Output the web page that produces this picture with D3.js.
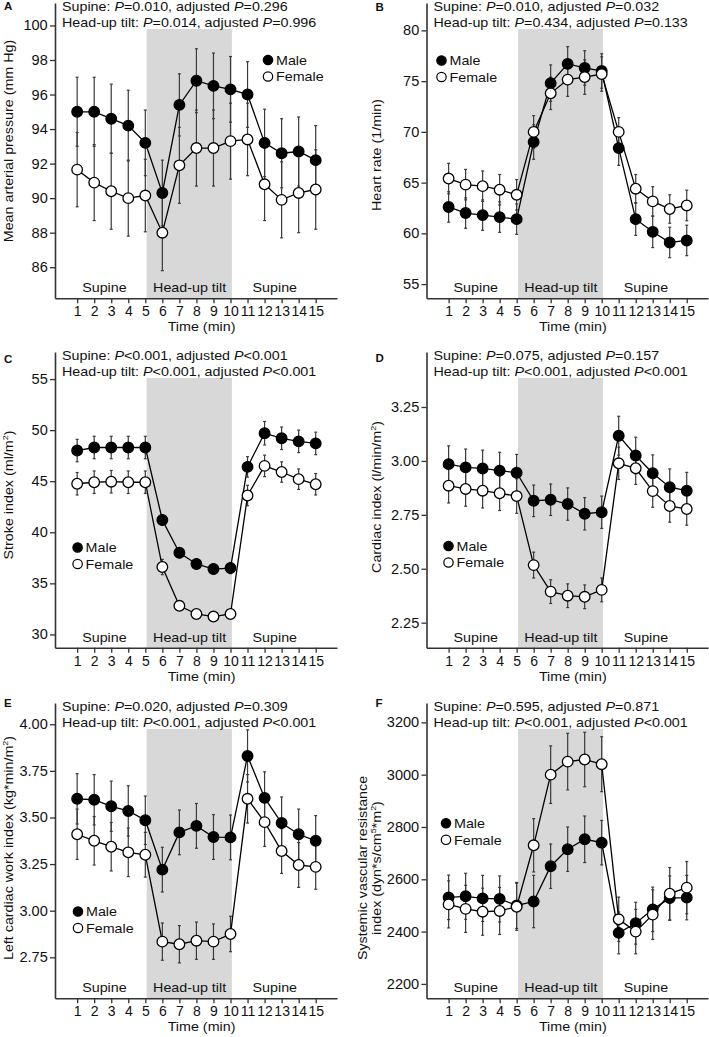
<!DOCTYPE html>
<html><head><meta charset="utf-8">
<script src="https://cdn.jsdelivr.net/npm/d3@7"></script>
<style>body{margin:0;background:#fff} svg{display:block} text{font-family:"Liberation Sans",Arial,Helvetica,sans-serif}</style>
</head><body><svg id="c" width="709" height="1037"></svg>
<script>
// ---------------- DATA ----------------
const times = [1,2,3,4,5,6,7,8,9,10,11,12,13,14,15];
const seriesNames = ["Male","Female"];
const phaseLabels = ["Supine","Head-up tilt","Supine"];
const phasePos = [2.6, 7.6, 12.6];
const tiltStart = 5.08, tiltEnd = 10.08;

const maleA = [95.0,95.0,94.6,94.2,93.2,90.3,95.4,96.8,96.5,96.3,96.0,93.2,92.6,92.7,92.2];
const maleAErr = [2.0,2.0,2.0,2.05,1.9,1.9,1.8,1.85,1.9,1.9,1.9,1.95,2.0,2.0,2.0];
const femaleA = [91.65,90.9,90.4,90.0,90.15,88.0,91.9,92.9,92.9,93.3,93.4,90.8,89.9,90.3,90.5];
const femaleAErr = [2.15,2.2,2.2,2.2,2.1,2.2,2.2,2.2,2.2,2.2,2.1,2.1,2.2,2.3,2.3];
const ticksA = [86,88,90,92,94,96,98,100];

const maleB = [62.6,62.0,61.8,61.6,61.4,69.0,74.8,76.7,76.3,76.0,68.4,61.4,60.15,59.1,59.3];
const maleBErr = [1.5,1.5,1.5,1.5,1.5,1.7,1.8,1.7,1.7,1.7,1.7,1.6,1.55,1.5,1.5];
const femaleB = [65.4,64.8,64.65,64.3,63.8,70.0,73.8,75.15,75.4,75.7,70.0,64.4,63.15,62.4,62.75];
const femaleBErr = [1.5,1.5,1.5,1.5,1.5,1.6,1.6,1.65,1.7,1.7,1.4,1.4,1.45,1.4,1.5];
const ticksB = [55,60,65,70,75,80];

const maleC = [48.0,48.3,48.3,48.3,48.3,41.2,38.0,36.9,36.4,36.5,46.4,49.7,49.2,48.9,48.7];
const maleCErr = [1.1,1.1,1.1,1.1,1.1,0.5,0.5,0.5,0.5,0.55,1.0,1.15,1.1,1.1,1.1];
const femaleC = [44.75,44.9,44.95,44.9,44.9,36.6,32.8,32.0,31.75,32.0,43.6,46.5,45.9,45.2,44.7];
const femaleCErr = [1.1,1.1,1.1,1.1,1.1,0.75,0.45,0.4,0.4,0.45,1.0,1.05,1.0,1.0,1.05];
const ticksC = [30,35,40,45,50,55];

const maleD = [2.985,2.97,2.965,2.955,2.945,2.815,2.82,2.80,2.755,2.762,3.117,3.025,2.943,2.878,2.862];
const maleDErr = [0.085,0.085,0.085,0.085,0.085,0.073,0.073,0.075,0.075,0.075,0.09,0.085,0.085,0.085,0.085];
const femaleD = [2.885,2.87,2.862,2.85,2.837,2.517,2.394,2.375,2.37,2.402,2.989,2.966,2.86,2.791,2.777];
const femaleDErr = [0.08,0.08,0.08,0.08,0.08,0.06,0.055,0.055,0.055,0.055,0.075,0.075,0.075,0.075,0.075];
const ticksD = [2.25,2.50,2.75,3.00,3.25];

const maleE = [3.60,3.595,3.56,3.535,3.485,3.22,3.42,3.455,3.395,3.393,3.83,3.605,3.47,3.41,3.375];
const maleEErr = [0.135,0.135,0.135,0.135,0.13,0.12,0.12,0.12,0.12,0.12,0.14,0.14,0.14,0.135,0.135];
const femaleE = [3.41,3.375,3.343,3.313,3.30,2.834,2.82,2.839,2.834,2.875,3.60,3.475,3.32,3.245,3.235];
const femaleEErr = [0.135,0.13,0.13,0.13,0.12,0.1,0.1,0.1,0.095,0.095,0.13,0.13,0.12,0.12,0.12];
const ticksE = [2.75,3.00,3.25,3.50,3.75,4.00];

const maleF = [2531,2535,2527,2525,2500,2515,2650,2715,2753,2740,2395,2432,2485,2528,2530];
const maleFErr = [85,88,88,88,88,100,85,85,89,85,80,80,85,85,85];
const femaleF = [2504,2487,2476,2479,2495,2730,3000,3050,3058,3040,2447,2400,2465,2545,2568];
const femaleFErr = [90,90,90,90,90,102,110,108,104,105,85,85,95,100,100];
const ticksF = [2200,2400,2600,2800,3000,3200];

const titleA = ["Supine: P=0.010, adjusted P=0.296","Head-up tilt: P=0.014, adjusted P=0.996"];
const titleB = ["Supine: P=0.010, adjusted P=0.032","Head-up tilt: P=0.434, adjusted P=0.133"];
const titleC = ["Supine: P<0.001, adjusted P<0.001","Head-up tilt: P<0.001, adjusted P<0.001"];
const titleD = ["Supine: P=0.075, adjusted P=0.157","Head-up tilt: P<0.001, adjusted P<0.001"];
const titleE = ["Supine: P=0.020, adjusted P=0.309","Head-up tilt: P<0.001, adjusted P<0.001"];
const titleF = ["Supine: P=0.595, adjusted P=0.871","Head-up tilt: P<0.001, adjusted P<0.001"];

const ylabelA = ["Mean arterial pressure (mm Hg)"];
const ylabelB = ["Heart rate (1/min)"];
const ylabelC = ["Stroke index (ml/m^2)"];
const ylabelD = ["Cardiac index (l/min/m^2)"];
const ylabelE = ["Left cardiac work index (kg*min/m^2)"];
const ylabelF = ["Systemic vascular resistance","index (dyn*s/cm^5*m^2)"];
const xlabel = "Time (min)";

// ---------------- LAYOUT ----------------
const cols = [{axis:55, end:337, ylabX:13}, {axis:426.5, end:708, ylabX:381}];
const rows = [{top:3, bottom:298.3}, {top:352, bottom:647.7}, {top:703, bottom:998.3}];
const f2 = d3.format(".2f");
const panels = [
 {letter:"A",col:0,row:0,m:maleA,me:maleAErr,f:femaleA,fe:femaleAErr,dom:[84.2,101.3],ticks:ticksA,fmt:d=>d,title:titleA,ylab:ylabelA,leg:[213,57],letterY:10,ylabC:138},
 {letter:"B",col:1,row:0,m:maleB,me:maleBErr,f:femaleB,fe:femaleBErr,dom:[53.6,82.7],ticks:ticksB,fmt:d=>d,title:titleB,ylab:ylabelB,leg:[15,57.5],letterY:10.5,ylabC:152},
 {letter:"C",col:0,row:1,m:maleC,me:maleCErr,f:femaleC,fe:femaleCErr,dom:[28.7,57.65],ticks:ticksC,fmt:d=>d,title:titleC,ylab:ylabelC,leg:[22.6,195.5],letterY:363,ylabC:143},
 {letter:"D",col:1,row:1,m:maleD,me:maleDErr,f:femaleD,fe:femaleDErr,dom:[2.134,3.505],ticks:ticksD,fmt:f2,title:titleD,ylab:ylabelD,leg:[22,194],letterY:362,ylabC:145},
 {letter:"E",col:0,row:2,m:maleE,me:maleEErr,f:femaleE,fe:femaleEErr,dom:[2.53,4.114],ticks:ticksE,fmt:f2,title:titleE,ylab:ylabelE,leg:[23,208.5],letterY:707,ylabC:145},
 {letter:"F",col:1,row:2,m:maleF,me:maleFErr,f:femaleF,fe:femaleFErr,dom:[2145,3274],ticks:ticksF,fmt:d=>d,title:titleF,ylab:ylabelF,leg:[19.5,120.3],letterY:707,ylabC:165}
];

const SX = 1.1, FS = 13, INK = "#111", AXC = "#333";
const svg = d3.select("#c");
svg.append("rect").attr("width",709).attr("height",1037).attr("fill","#fff");

function addText(g, str, x, y, o={}) {
  const size=o.size||FS, sx=o.sx||SX;
  const t=g.append("text")
    .attr("transform",`translate(${x},${y}) rotate(${o.rotate||0}) scale(${sx},1)`)
    .attr("font-size",size).attr("text-anchor",o.anchor||"start")
    .attr("font-weight",o.weight||"normal").attr("fill",INK);
  const parts=str.split(/(\^\S|P(?=[=<]))/);
  let pending=0;
  parts.forEach(p=>{
    if(!p) return;
    if(p[0]==="^"){ t.append("tspan").attr("font-size",size*0.62).attr("dy",-size*0.42-pending).text(p.slice(1)); pending=-size*0.42; }
    else { const s=t.append("tspan"); if(pending){s.attr("dy",-pending);pending=0;}
      if(p==="P") s.attr("font-style","italic"); s.text(p); }
  });
  return t;
}

panels.forEach(p=>{
  const c=cols[p.col], r=rows[p.row];
  const g=svg.append("g");
  const x=d3.scaleLinear().domain([-0.3,16.25]).range([c.axis,c.end]);
  const y=d3.scaleLinear().domain(p.dom).range([r.bottom,r.top]);

  // tilt shading
  g.append("rect").attr("x",x(tiltStart)).attr("width",x(tiltEnd)-x(tiltStart))
    .attr("y",r.top+26).attr("height",r.bottom-r.top-26).attr("fill","#d8d8d8");

  // phase labels
  phaseLabels.forEach((lab,i)=>addText(g,lab,x(phasePos[i]),r.bottom-6,{anchor:"middle"}));

  // axes
  const ya=g.append("g").attr("transform",`translate(${c.axis},0)`)
    .call(d3.axisLeft(y).tickValues(p.ticks).tickFormat(p.fmt).tickSize(5).tickPadding(2).tickSizeOuter(0));
  const xa=g.append("g").attr("transform",`translate(0,${r.bottom})`)
    .call(d3.axisBottom(x).tickValues(times).tickFormat(d=>d).tickSize(5).tickPadding(3).tickSizeOuter(0));
  [ya,xa].forEach(a=>{
    a.select(".domain").attr("stroke",AXC).attr("stroke-width",1.6);
    a.selectAll(".tick line").attr("stroke",AXC).attr("stroke-width",1.3);
    a.selectAll(".tick text").attr("font-size",14).attr("fill",INK).attr("font-family",null);
  });
  ya.selectAll(".tick text").attr("transform","scale(1.04,1)");

  // axis labels
  addText(g,xlabel,x(8.3),r.bottom+33,{anchor:"middle"});
  const cy=r.top+p.ylabC;
  if(p.ylab.length===1) addText(g,p.ylab[0],c.ylabX,cy,{anchor:"middle",rotate:-90});
  else { addText(g,p.ylab[0],c.ylabX-14,cy,{anchor:"middle",rotate:-90}); addText(g,p.ylab[1],c.ylabX,cy,{anchor:"middle",rotate:-90}); }

  // title + letter
  addText(g,p.title[0],c.axis+7,r.top+7.5);
  addText(g,p.title[1],c.axis+7,r.top+24);
  addText(g,p.letter,c.axis-51,p.letterY,{weight:"bold",size:11.5,sx:1});

  // series
  const series=[{v:p.m,e:p.me,fill:"#000"},{v:p.f,e:p.fe,fill:"#fff"}];
  series.forEach(s=>{
    const eb=g.append("g").attr("stroke","#3a3a3a").attr("stroke-width",1.2);
    times.forEach((t,i)=>{
      const x0=x(t), y1=y(s.v[i]+s.e[i]), y2=y(s.v[i]-s.e[i]);
      eb.append("line").attr("x1",x0).attr("x2",x0).attr("y1",y1).attr("y2",y2);
      eb.append("line").attr("x1",x0-1.5).attr("x2",x0+1.5).attr("y1",y1).attr("y2",y1);
      eb.append("line").attr("x1",x0-1.5).attr("x2",x0+1.5).attr("y1",y2).attr("y2",y2);
    });
  });
  const line=d3.line().x((d,i)=>x(times[i])).y(d=>y(d));
  series.forEach(s=>g.append("path").attr("d",line(s.v)).attr("fill","none").attr("stroke","#000").attr("stroke-width",1.3));
  series.forEach(s=>{
    g.append("g").selectAll("circle").data(s.v).join("circle")
      .attr("cx",(d,i)=>x(times[i])).attr("cy",d=>y(d)).attr("r",5.3)
      .attr("fill",s.fill).attr("stroke","#000").attr("stroke-width",1.3);
  });

  // legend
  const lx=c.axis+p.leg[0], ly=r.top+p.leg[1];
  series.forEach((s,i)=>{
    g.append("circle").attr("cx",lx).attr("cy",ly+i*16.5).attr("r",4.7).attr("fill",s.fill).attr("stroke","#000").attr("stroke-width",1.2);
    addText(g,seriesNames[i],lx+8,ly+i*16.5+4.7);
  });
});
</script></body></html>
